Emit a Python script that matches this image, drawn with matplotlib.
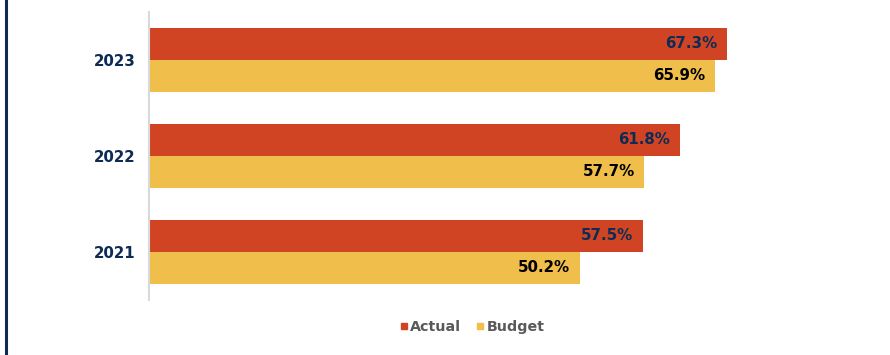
import matplotlib
matplotlib.use("Agg")
import matplotlib.pyplot as plt
from matplotlib.lines import Line2D
import numpy as np

years = ["2021", "2022", "2023"]
actual = [57.5, 61.8, 67.3]
budget = [50.2, 57.7, 65.9]

c_actual = "#d04424"
c_budget = "#f0be4a"
navy = "#0d2b55"

fig = plt.figure(figsize=(8.9, 3.55), dpi=100)
ax = fig.add_axes([149/890, (355-300)/355, (836-149)/890, 288/355])

y = np.arange(len(years))
h = 1/3
ax.barh(y + h/2, actual, height=h, color=c_actual, label="Actual")
ax.barh(y - h/2, budget, height=h, color=c_budget, label="Budget")

for yi, v in zip(y, actual):
    ax.text(v - 1.15, yi + h/2, f"{v:.1f}%", ha="right", va="center",
            fontsize=10.8, fontweight="bold", color=navy)
for yi, v in zip(y, budget):
    ax.text(v - 1.15, yi - h/2, f"{v:.1f}%", ha="right", va="center",
            fontsize=10.8, fontweight="bold", color="black")

ax.set_xlim(0, 80)
ax.set_ylim(-0.5, 2.5)
ax.set_yticks(y)
ax.set_yticklabels(years, fontsize=10.8, fontweight="bold", color=navy)
ax.tick_params(axis="y", length=0, pad=9.5)
ax.set_xticks([])
for s in ["top", "right", "bottom"]:
    ax.spines[s].set_visible(False)
ax.spines["left"].set_color("#d9d9d9")
ax.spines["left"].set_linewidth(1.5)

handles = [
    Line2D([], [], marker="s", linestyle="none", markersize=5, color=c_actual),
    Line2D([], [], marker="s", linestyle="none", markersize=5, color=c_budget),
]
leg = fig.legend(handles, ["Actual", "Budget"], loc="center", bbox_to_anchor=(467/890, 1 - 327/355),
                 ncol=2, frameon=False, handletextpad=-0.55, columnspacing=0.3,
                 prop={"weight": "bold", "size": 10.3})
for t in leg.get_texts():
    t.set_color("#595959")

fig.add_artist(Line2D([6/890, 6/890], [0, 1], transform=fig.transFigure, color=navy, linewidth=2.2))

fig.savefig("out.png", dpi=100)
